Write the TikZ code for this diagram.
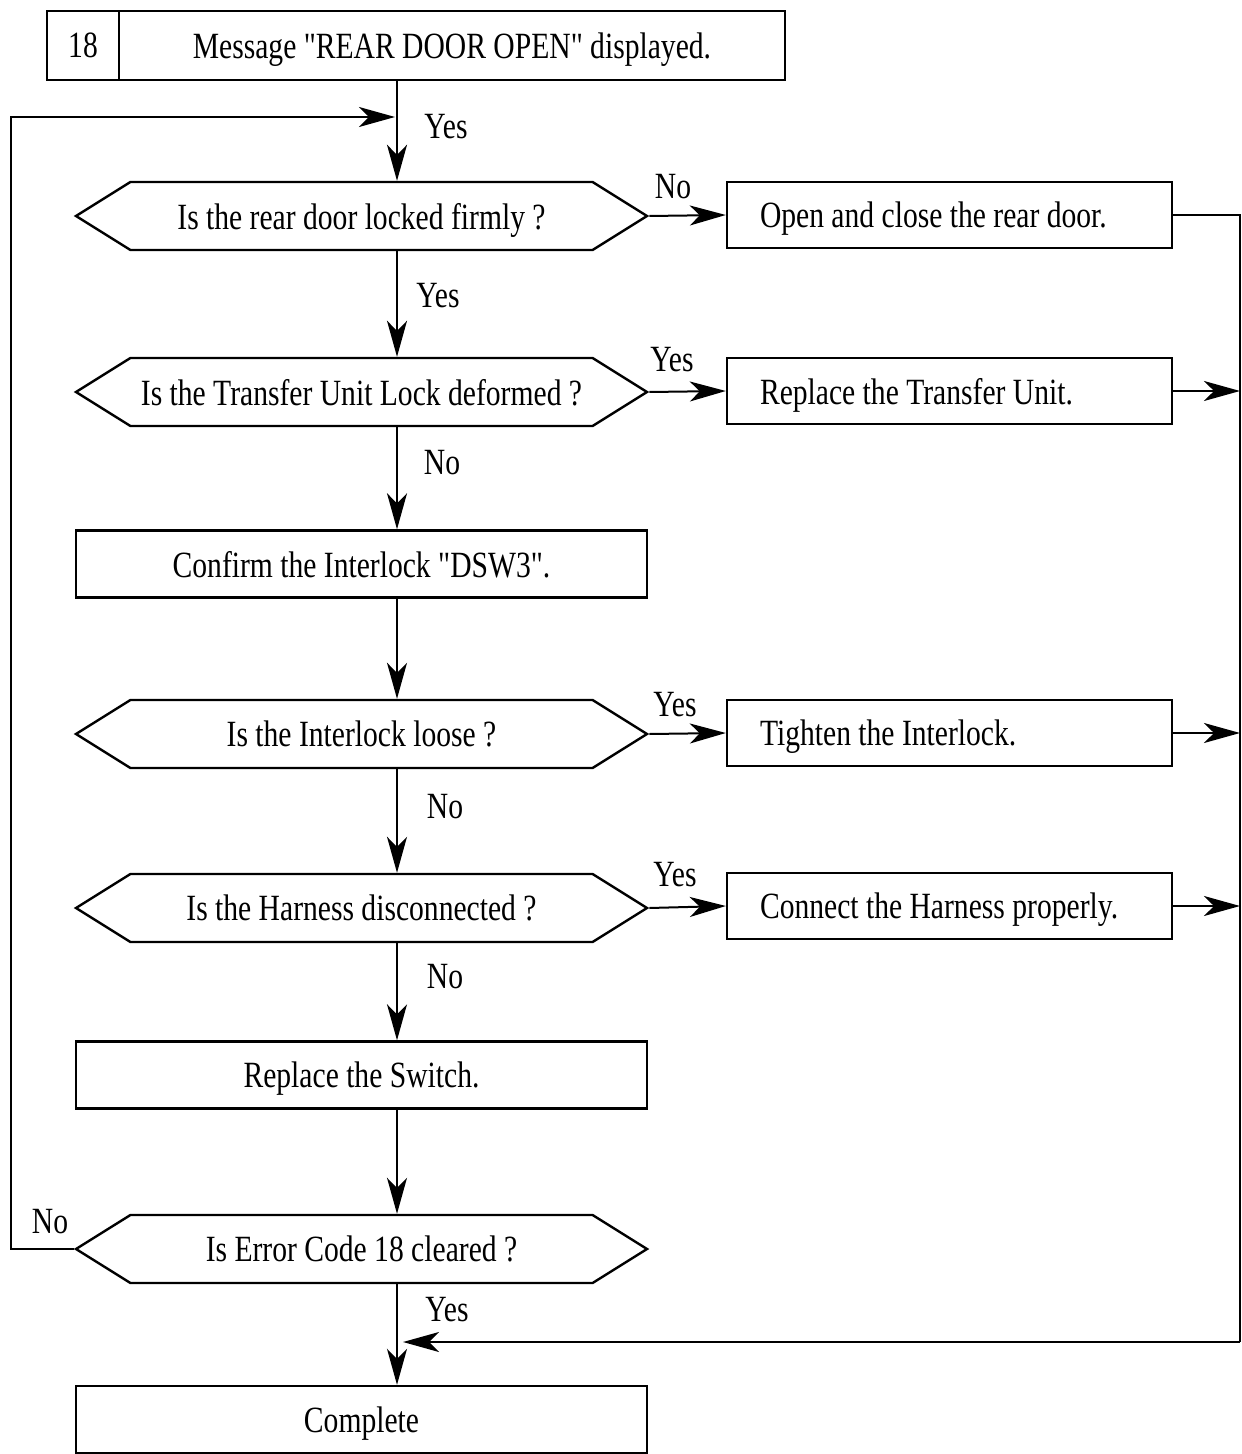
\documentclass[tikz,border=0pt]{standalone}
\usepackage{fontspec}
\setmainfont{Liberation Serif}[FakeStretch=0.8,Ligatures=TeXOff]
\usetikzlibrary{arrows.meta,shapes.symbols}

\begin{document}
\begin{tikzpicture}[
x=0.5pt,y=-0.5pt,
every node/.style={font=\fontsize{18.5}{22}\selectfont,inner sep=0pt},
proc/.style={draw,line width=1.2pt,minimum width=285.5pt,minimum height=33.5pt,text depth=0pt},
query/.style={draw,line width=1.2pt,shape=signal,signal to=west and east,signal pointer angle=64,minimum width=285.5pt,minimum height=34pt,text depth=0pt},
fix/.style={draw,line width=1.2pt,inner xsep=16.5pt,minimum height=33pt,text depth=0pt,
  execute at begin node={\hbox to 189.5pt\bgroup},execute at end node={\hfil\egroup}},
flow/.style={line width=1pt,-{Stealth[length=18pt,width=10pt,inset=5pt]}}
]
\useasboundingbox (0,0) rectangle (1241,1454);

% header
\node[proc,minimum width=36pt,minimum height=34.5pt] (num) at (83,45.5) {18};
\node[proc,minimum width=333pt,minimum height=34.5pt] (msg) at (452,45.5) {Message "REAR DOOR OPEN" displayed.};

% main column
\node[query] (q1) at (361.5,216) {Is the rear door locked firmly ?};
\node[query] (q2) at (361.5,392) {Is the Transfer Unit Lock deformed ?};
\node[proc] (conf) at (361.5,564) {Confirm the Interlock "DSW3".};
\node[query] (q3) at (361.5,734) {Is the Interlock loose ?};
\node[query] (q4) at (361.5,908) {Is the Harness disconnected ?};
\node[proc] (swap) at (361.5,1075) {Replace the Switch.};
\node[query] (q5) at (361.5,1249) {Is Error Code 18 cleared ?};
\node[proc] (done) at (361.5,1419.5) {Complete};

% remedies
\node[fix] (f1) at (949.5,215) {Open and close the rear door.};
\node[fix] (f2) at (949.5,391) {Replace the Transfer Unit.};
\node[fix] (f3) at (949.5,733) {Tighten the Interlock.};
\node[fix] (f4) at (949.5,906) {Connect the Harness properly.};

\coordinate (spine) at (397,0);
\coordinate (lx) at (11,117);
\coordinate (rx) at (1240,1342);

% down the spine
\draw[flow] (msg.south -| spine) -- (q1.north -| spine);
\draw[flow] (q1.south -| spine) -- (q2.north -| spine);
\draw[flow] (q2.south -| spine) -- (conf.north -| spine);
\draw[flow] (conf.south -| spine) -- (q3.north -| spine);
\draw[flow] (q3.south -| spine) -- (q4.north -| spine);
\draw[flow] (q4.south -| spine) -- (swap.north -| spine);
\draw[flow] (swap.south -| spine) -- (q5.north -| spine);
\draw[flow] (q5.south -| spine) -- (done.north -| spine);

% branches
\draw[flow] (q1.east) -- (f1.west);
\draw[flow] (q2.east) -- (f2.west);
\draw[flow] (q3.east) -- (f3.west);
\draw[flow] (q4.east) -- (f4.west);
\draw[line width=1pt] (f1.east) -- (f1.east -| rx) -- (rx);
\draw[flow] (f2.east) -- (f2.east -| rx);
\draw[flow] (f3.east) -- (f3.east -| rx);
\draw[flow] (f4.east) -- (f4.east -| rx);
\draw[flow] (rx) -- ([xshift=3pt]rx -| spine);
\draw[flow] (q5.west) -- (q5.west -| lx) -- (lx) -- ([xshift=-1pt]lx -| spine);

% labels
\node (y0) at (446,127) {Yes};
\node (y1) at (438,296) {Yes};
\node (n2) at (442,463) {No};
\node (n3) at (445,807) {No};
\node (n4) at (445,977) {No};
\node (y5) at (447,1310) {Yes};
\node (n1) at (673,187) {No};
\node (y2) at (672,360) {Yes};
\node (y3) at (675,705) {Yes};
\node (y4) at (675,875) {Yes};
\node (n5) at (50,1222) {No};
\end{tikzpicture}
\end{document}
